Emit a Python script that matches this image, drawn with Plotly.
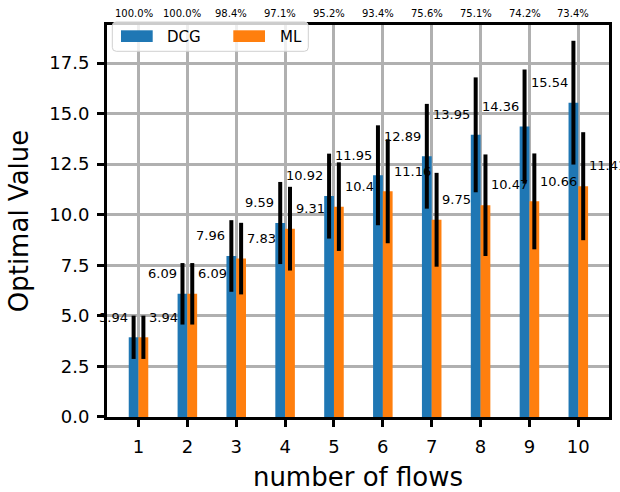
import plotly.graph_objects as go

flows = [1, 2, 3, 4, 5, 6, 7, 8, 9, 10]
dcg = [3.94, 6.09, 7.96, 9.59, 10.92, 11.95, 12.89, 13.95, 14.36, 15.54]
ml = [3.94, 6.09, 7.83, 9.31, 10.4, 11.16, 9.75, 10.47, 10.66, 11.41]
dcg_err = [1.07, 1.52, 1.77, 2.03, 2.10, 2.47, 2.59, 2.84, 2.82, 3.06]
ml_err = [1.07, 1.52, 1.77, 2.07, 2.19, 2.57, 2.32, 2.51, 2.37, 2.67]
ratio_labels = ["100.0%", "100.0%", "98.4%", "97.1%", "95.2%",
                "93.4%", "75.6%", "75.1%", "74.2%", "73.4%"]
series_names = ["DCG", "ML"]

BLUE = "#1f77b4"
ORANGE = "#ff7f0e"
FONT = "DejaVu Sans"
BAR_W = 0.2

W, H = 620, 492
ML_, MR_, MT_, MB_ = 107, 11, 25, 75
PW = W - ML_ - MR_
PH = H - MT_ - MB_


def px(x):
    return (x - ML_) / PW


def py(y):
    return (H - MB_ - y) / PH


fig = go.Figure()
fig.add_trace(go.Bar(
    x=flows, y=dcg, name=series_names[0], marker_color=BLUE, marker_line_width=0,
    error_y=dict(type="data", array=dcg_err, color="black", thickness=4, width=0),
    showlegend=False,
))
fig.add_trace(go.Bar(
    x=flows, y=ml, name=series_names[1], marker_color=ORANGE, marker_line_width=0,
    error_y=dict(type="data", array=ml_err, color="black", thickness=4, width=0),
    showlegend=False,
))

annotations = []
for f, v in zip(flows, dcg):
    annotations.append(dict(x=f - BAR_W, y=v + 1, xref="x", yref="y", text=f"{v:g}",
                            showarrow=False, xanchor="right", yanchor="middle",
                            font=dict(family=FONT, size=13, color="black"), borderpad=0))
for f, v in zip(flows, ml):
    annotations.append(dict(x=f + BAR_W, y=v + 1, xref="x", yref="y", text=f"{v:g}",
                            showarrow=False, xanchor="left", yanchor="middle",
                            font=dict(family=FONT, size=13, color="black"), borderpad=0))
for f, t in zip(flows, ratio_labels):
    annotations.append(dict(x=f - BAR_W / 2, y=1, xref="x", yref="paper", text=t,
                            showarrow=False, xanchor="center", yanchor="middle", yshift=12,
                            font=dict(family=FONT, size=10, color="black"), borderpad=0))

# legend (drawn manually to match swatch shape)
shapes = []
bx0, bx1, by0, by1, r = 112.3, 308.3, 22.0, 51.3, 4.0
path = (f"M {px(bx0 + r)},{py(by0)} L {px(bx1 - r)},{py(by0)} "
        f"Q {px(bx1)},{py(by0)} {px(bx1)},{py(by0 + r)} "
        f"L {px(bx1)},{py(by1 - r)} Q {px(bx1)},{py(by1)} {px(bx1 - r)},{py(by1)} "
        f"L {px(bx0 + r)},{py(by1)} Q {px(bx0)},{py(by1)} {px(bx0)},{py(by1 - r)} "
        f"L {px(bx0)},{py(by0 + r)} Q {px(bx0)},{py(by0)} {px(bx0 + r)},{py(by0)} Z")
shapes.append(dict(type="path", xref="paper", yref="paper", path=path,
                   fillcolor="rgba(255,255,255,0.8)", line=dict(color="#d0d0d0", width=1),
                   layer="above"))
for name, color, sx, tx in [(series_names[0], BLUE, 121.0, 165.7),
                            (series_names[1], ORANGE, 233.3, 279.3)]:
    shapes.append(dict(type="rect", xref="paper", yref="paper",
                       x0=px(sx), x1=px(sx + 31.7), y0=py(30.3), y1=py(42.0),
                       fillcolor=color, line=dict(width=0), layer="above"))
    annotations.append(dict(x=px(tx), y=py(36.5), xref="paper", yref="paper", text=name,
                            showarrow=False, xanchor="left", yanchor="middle",
                            font=dict(family=FONT, size=15, color="black"), borderpad=0))

axis_common = dict(
    showline=True, linecolor="black", linewidth=3, mirror=True,
    ticks="outside", ticklen=7, tickwidth=3, tickcolor="black",
    showgrid=True, gridcolor="#b0b0b0", gridwidth=3,
    layer="above traces", zeroline=False, automargin=False,
    tickfont=dict(family=FONT, size=18, color="black"),
    ticklabelstandoff=4,
)

fig.update_layout(
    width=W, height=H,
    margin=dict(l=ML_, r=MR_, t=MT_, b=MB_),
    paper_bgcolor="white", plot_bgcolor="white",
    barmode="group", bargap=0.6, bargroupgap=0,
    font=dict(family=FONT, color="black"),
    showlegend=False,
    xaxis=dict(range=[0.3554, 10.628], tickvals=flows,
               title=dict(text="number of flows", font=dict(family=FONT, size=26, color="black"),
                          standoff=15),
               **axis_common),
    yaxis=dict(range=[-0.001, 19.38],
               tickvals=[0, 2.5, 5, 7.5, 10, 12.5, 15, 17.5], tickformat=".1f",
               title=dict(text="Optimal Value", font=dict(family=FONT, size=26, color="black"),
                          standoff=14),
               **axis_common),
    annotations=annotations,
    shapes=shapes,
)

fig.write_html("out.html")
